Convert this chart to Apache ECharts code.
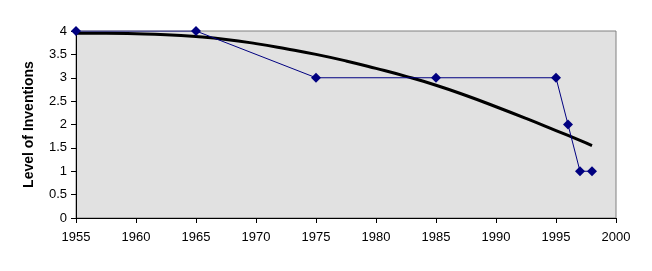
<!DOCTYPE html>
<html><head><meta charset="utf-8">
<script src="https://cdn.jsdelivr.net/npm/echarts@6/dist/echarts.min.js"></script>
<style>html,body{margin:0;padding:0;background:#fff}#c{width:652px;height:271px}</style>
</head><body><div id="c"></div>
<script>
const years = [1955, 1965, 1975, 1985, 1995, 1996, 1997, 1998];
const levels = [4, 4, 3, 3, 3, 2, 1, 1];
const trendYears = [1955, 1957.5, 1960, 1962.5, 1965, 1967.5, 1970, 1972.5, 1975, 1977.5, 1980, 1982.5, 1985, 1987.5, 1990, 1992.5, 1995, 1997, 1998];
const trendLevels = [3.95, 3.95, 3.94, 3.92, 3.88, 3.82, 3.73, 3.62, 3.5, 3.36, 3.2, 3.03, 2.84, 2.62, 2.38, 2.13, 1.87, 1.66, 1.55];
const yAxisTitle = 'Level of Inventions';

const font = 'Liberation Sans, Arial, sans-serif';
const chart = echarts.init(document.getElementById('c'));
chart.setOption({
  animation: false,
  grid: {left: 76, right: 36, top: 31, bottom: 53, show: true, backgroundColor: '#e1e1e1', borderColor: '#808080', borderWidth: 1},
  xAxis: {
    type: 'value', min: 1955, max: 2000, interval: 5,
    axisLine: {show: true, lineStyle: {color: '#000', width: 1}},
    axisTick: {show: true, length: 5, lineStyle: {color: '#000'}},
    axisLabel: {color: '#000', fontFamily: font, fontSize: 13, margin: 13, formatter: v => String(v)},
    splitLine: {show: false}
  },
  yAxis: {
    type: 'value', min: 0, max: 4, interval: 0.5,
    name: yAxisTitle, nameLocation: 'middle', nameGap: 40,
    nameTextStyle: {color: '#000', fontFamily: font, fontSize: 14, fontWeight: 'bold'},
    axisLine: {show: true, lineStyle: {color: '#000', width: 1}},
    axisTick: {show: true, length: 5, lineStyle: {color: '#000'}},
    axisLabel: {color: '#000', fontFamily: font, fontSize: 13, margin: 9},
    splitLine: {show: false}
  },
  series: [
    {
      type: 'line', data: trendYears.map((y, i) => [y, trendLevels[i]]),
      smooth: true, showSymbol: false, lineStyle: {color: '#000', width: 3}, z: 2
    },
    {
      type: 'line', data: years.map((y, i) => [y, levels[i]]),
      symbol: 'diamond', symbolSize: 10,
      itemStyle: {color: '#000080'}, lineStyle: {color: '#000080', width: 1}, z: 3
    }
  ]
});
</script></body></html>
